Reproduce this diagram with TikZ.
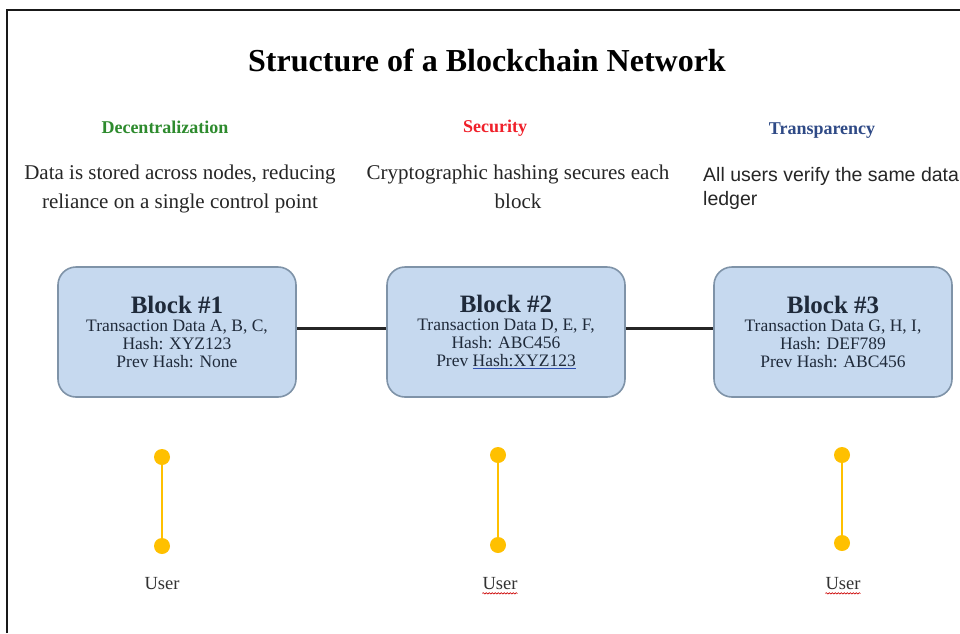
\documentclass[tikz,border=0pt]{standalone}
\usepackage{fontspec}
\setmainfont{Liberation Serif}
\newfontfamily\arialfont{Liberation Sans}
\usetikzlibrary{decorations.pathmorphing}
\definecolor{blockfill}{HTML}{C6D9EF}
\definecolor{blockdraw}{HTML}{7F93A8}
\definecolor{blocktext}{HTML}{1F2A3A}
\definecolor{hgreen}{HTML}{2E8B2E}
\definecolor{hred}{HTML}{F0202A}
\definecolor{hnavy}{HTML}{2F4A86}
\definecolor{useryellow}{HTML}{FFC000}
\definecolor{ulblue}{HTML}{3050B0}
\newcommand\myblueul[1]{\setbox0\hbox{#1}\rlap{\color{ulblue}\rule[-2.5pt]{\wd0}{0.7pt}}\box0}
\tikzset{
  blockbox/.style={draw=blockdraw, line width=1.6pt, fill=blockfill, rounded corners=18pt,
    minimum width=238pt, minimum height=130pt, align=center, text=blocktext,
    font=\fontsize{17.5}{18}\selectfont, inner sep=0pt},
  blocktitle/.style={},
  heading/.style={font=\fontsize{18}{20}\selectfont\bfseries, inner sep=0pt},
  desc/.style={font=\fontsize{21}{29}\selectfont, align=center, inner sep=0pt, text=black!85},
  chain/.style={line width=3pt, black!85},
  udot/.style={circle, fill=useryellow, minimum size=16pt, inner sep=0pt},
  ulink/.style={useryellow, line width=2pt},
  ulabel/.style={font=\fontsize{18.5}{20}\selectfont, inner sep=0pt, text=black!80},
  spell/.style={red!80!black, line width=0.6pt, decorate, decoration={snake, amplitude=0.7pt, segment length=3pt}}
}
\newcommand\btitle[1]{{\fontsize{25}{27}\selectfont\bfseries #1}}
\begin{document}
\begin{tikzpicture}[x=1pt,y=-1pt]
\useasboundingbox (0,0) rectangle (960,633);
\fill[white] (0,0) rectangle (960,633);
\draw[line width=2.5pt, black!90] (7,633) -- (7,10) -- (960,10);

\node[font=\fontsize{32}{34}\selectfont\bfseries, inner sep=0pt] (title) at (487,60) {Structure of a Blockchain Network};

\node[heading, text=hgreen] (h1) at (165,127) {Decentralization};
\node[heading, text=hred] (h2) at (495,128) {Security};
\node[heading, text=hnavy] (h3) at (822,131) {Transparency};

\node[desc] (d1) at (180,189) {Data is stored across nodes, reducing\\reliance on a single control point};
\node[desc] (d2) at (518,187) {Cryptographic hashing secures each\\block};
\node[font=\arialfont\fontsize{19.5}{24}\selectfont, align=left, inner sep=0pt, anchor=west, text=black!85] (d3) at (703,188) {All users verify the same data\\ledger};

\node[blockbox] (b1) at (177,332) {\btitle{Block \#1}\\Transaction Data A, B, C,\\Hash: XYZ123\\Prev Hash: None};
\node[blockbox] (b2) at (506,332) {\btitle{Block \#2}\\Transaction Data D, E, F,\\Hash: ABC456\\Prev \myblueul{Hash:XYZ123}};
\node[blockbox] (b3) at (833,332) {\btitle{Block \#3}\\Transaction Data G, H, I,\\Hash: DEF789\\Prev Hash: ABC456};

\draw[chain] ([yshift=4pt]b1.east) -- ([yshift=4pt]b2.west);
\draw[chain] ([yshift=4pt]b2.east) -- ([yshift=4pt]b3.west);

\node[udot] (t1) at (162,457) {};
\node[udot] (s1) at (162,546) {};
\node[udot] (t2) at (498,455) {};
\node[udot] (s2) at (498,545) {};
\node[udot] (t3) at (842,455) {};
\node[udot] (s3) at (842,543) {};
\draw[ulink] (t1) -- (s1);
\draw[ulink] (t2) -- (s2);
\draw[ulink] (t3) -- (s3);

\node[ulabel] (u1) at (162,584) {User};
\node[ulabel] (u2) at (500,584) {User};
\node[ulabel] (u3) at (843,584) {User};
\draw[spell] ([yshift=-3pt]u2.south west) -- ([yshift=-3pt]u2.south east);
\draw[spell] ([yshift=-3pt]u3.south west) -- ([yshift=-3pt]u3.south east);
\end{tikzpicture}
\end{document}
